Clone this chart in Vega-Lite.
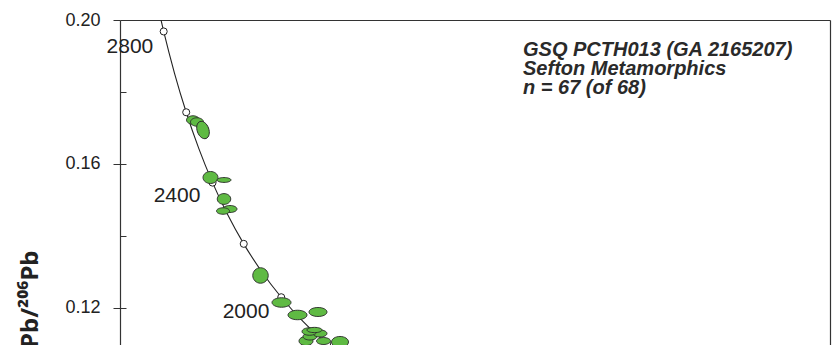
{
  "$schema": "https://vega.github.io/schema/vega-lite/v6.json",
  "width": 710,
  "height": 325,
  "autosize": {"type": "none"},
  "padding": {"left": 120, "top": 20, "right": 3, "bottom": 0},
  "background": "white",
  "config": {"view": {"stroke": null}, "font": "Liberation Sans"},
  "datasets": {
    "concordia": [
      {"age": 2900, "x": 1.76026, "y": 0.20928},
      {"age": 2850, "x": 1.79862, "y": 0.20294},
      {"age": 2800, "x": 1.83837, "y": 0.19682},
      {"age": 2700, "x": 1.92236, "y": 0.18520},
      {"age": 2600, "x": 2.01290, "y": 0.17437},
      {"age": 2500, "x": 2.11079, "y": 0.16426},
      {"age": 2400, "x": 2.21696, "y": 0.15483},
      {"age": 2300, "x": 2.33246, "y": 0.14604},
      {"age": 2200, "x": 2.45857, "y": 0.13782},
      {"age": 2100, "x": 2.59680, "y": 0.13015},
      {"age": 2000, "x": 2.74902, "y": 0.12299},
      {"age": 1900, "x": 2.91738, "y": 0.11629},
      {"age": 1800, "x": 3.10458, "y": 0.11004},
      {"age": 1700, "x": 3.31395, "y": 0.10419}
    ],
    "agemarks": [
      {"age": 2800, "x": 1.83837, "y": 0.19682},
      {"age": 2600, "x": 2.01290, "y": 0.17437},
      {"age": 2400, "x": 2.21696, "y": 0.15483},
      {"age": 2200, "x": 2.45857, "y": 0.13782},
      {"age": 2000, "x": 2.74902, "y": 0.12299},
      {"age": 1800, "x": 3.10458, "y": 0.11004}
    ],
    "agelabels": [
      {"label": "2800", "x": 1.577, "y": 0.1925},
      {"label": "2400", "x": 1.9416, "y": 0.15111},
      {"label": "2000", "x": 2.476, "y": 0.11889}
    ],
    "spots": [
      {"x": 2.0655, "y": 0.17222, "semi": 0.0504, "ratio": 0.65, "angle": 0},
      {"x": 2.0965, "y": 0.17167, "semi": 0.0504, "ratio": 0.65, "angle": 0},
      {"x": 2.143, "y": 0.16944, "semi": 0.0697, "ratio": 0.65, "angle": 70},
      {"x": 2.201, "y": 0.15625, "semi": 0.0581, "ratio": 0.8, "angle": 0},
      {"x": 2.3056, "y": 0.15556, "semi": 0.0542, "ratio": 0.35, "angle": 0},
      {"x": 2.3056, "y": 0.15028, "semi": 0.0523, "ratio": 0.8, "angle": 0},
      {"x": 2.3521, "y": 0.1475, "semi": 0.0542, "ratio": 0.5, "angle": 0},
      {"x": 2.2979, "y": 0.14694, "semi": 0.0504, "ratio": 0.5, "angle": 0},
      {"x": 2.5884, "y": 0.12903, "semi": 0.06, "ratio": 1, "angle": 0},
      {"x": 2.7511, "y": 0.12153, "semi": 0.0736, "ratio": 0.5, "angle": 0},
      {"x": 2.875, "y": 0.11806, "semi": 0.0736, "ratio": 0.5, "angle": 0},
      {"x": 3.0338, "y": 0.11889, "semi": 0.0697, "ratio": 0.5, "angle": 0},
      {"x": 3.2043, "y": 0.11056, "semi": 0.0658, "ratio": 0.65, "angle": 0},
      {"x": 2.9409, "y": 0.11083, "semi": 0.0542, "ratio": 0.65, "angle": 0},
      {"x": 3.0764, "y": 0.11083, "semi": 0.0542, "ratio": 0.5, "angle": 0},
      {"x": 2.9718, "y": 0.11208, "semi": 0.0542, "ratio": 0.5, "angle": 0},
      {"x": 3.0493, "y": 0.11292, "semi": 0.0542, "ratio": 0.5, "angle": 0},
      {"x": 2.968, "y": 0.11347, "semi": 0.0581, "ratio": 0.5, "angle": 0},
      {"x": 3.0067, "y": 0.11389, "semi": 0.0581, "ratio": 0.35, "angle": 0}
    ],
    "notes": [
      {"text": "GSQ PCTH013 (GA 2165207)", "x": 4.622, "y": 0.19},
      {"text": "Sefton Metamorphics", "x": 4.622, "y": 0.18472},
      {"text": "n = 67 (of 68)", "x": 4.622, "y": 0.17944}
    ]
  },
  "resolve": {"axis": {"x": "independent", "y": "independent"}},
  "layer": [
    {
      "data": {"name": "concordia"},
      "mark": {"type": "line", "color": "#222222", "strokeWidth": 1.1, "interpolate": "monotone", "clip": true},
      "encoding": {
        "x": {"field": "x", "type": "quantitative", "scale": {"domain": [1.5, 7.0], "nice": false, "zero": false},
          "axis": {"orient": "top", "labels": false, "ticks": false, "grid": false, "title": null, "domainColor": "#333333", "domainWidth": 1.2}},
        "y": {"field": "y", "type": "quantitative", "scale": {"domain": [0.109722, 0.2], "nice": false, "zero": false},
          "title": "²⁰⁷Pb/²⁰⁶Pb",
          "axis": {"orient": "left", "values": [0.12, 0.16, 0.2], "format": ".2f", "grid": false,
            "tickSize": 7, "tickColor": "#333333", "tickWidth": 1, "domainColor": "#333333", "domainWidth": 1.2,
            "labelFontSize": 18, "labelColor": "#222222", "labelPadding": 13, "labelFont": "Liberation Sans",
            "titleFont": "Noto Sans", "titleFontSize": 24, "titleFontWeight": "bold", "titleColor": "#222222",
            "titleAngle": -90, "titleAlign": "right", "titleBaseline": "middle", "titleX": -90, "titleY": 230}}
      }
    },
    {
      "data": {"name": "agemarks"},
      "mark": {"type": "point", "shape": "circle", "filled": true, "fill": "white", "stroke": "#222222", "strokeWidth": 1, "size": 50, "opacity": 1, "clip": true},
      "encoding": {
        "x": {"field": "x", "type": "quantitative", "axis": null},
        "y": {"field": "y", "type": "quantitative",
          "axis": {"orient": "right", "labels": false, "ticks": false, "grid": false, "title": null, "domainColor": "#333333", "domainWidth": 1.2}}
      }
    },
    {
      "data": {"name": "spots"},
      "mark": {"type": "point", "filled": true, "fill": "#5fba43", "stroke": "#2a2a2a", "strokeWidth": 0.9, "opacity": 1, "clip": true},
      "encoding": {
        "x": {"field": "x", "type": "quantitative", "axis": null},
        "y": {"field": "y", "type": "quantitative",
          "axis": {"orient": "left", "values": [0.12, 0.14, 0.16, 0.18], "labels": false, "domain": false, "grid": false, "title": null,
            "tickSize": -6, "tickColor": "#333333", "tickWidth": 1}},
        "size": {"field": "semi", "type": "quantitative", "scale": {"type": "pow", "exponent": 2, "domain": [0, 0.1], "range": [0, 666.6], "zero": true}, "legend": null},
        "shape": {"field": "ratio", "type": "nominal", "legend": null,
          "scale": {"domain": [0.35, 0.5, 0.65, 0.8, 1],
            "range": [
              "M-1,0A1,0.35,0,1,0,1,0A1,0.35,0,1,0,-1,0Z",
              "M-1,0A1,0.5,0,1,0,1,0A1,0.5,0,1,0,-1,0Z",
              "M-1,0A1,0.65,0,1,0,1,0A1,0.65,0,1,0,-1,0Z",
              "M-1,0A1,0.8,0,1,0,1,0A1,0.8,0,1,0,-1,0Z",
              "M-1,0A1,1,0,1,0,1,0A1,1,0,1,0,-1,0Z"
            ]}},
        "angle": {"field": "angle", "type": "quantitative", "scale": null}
      }
    },
    {
      "data": {"name": "agelabels"},
      "mark": {"type": "text", "fontSize": 21, "font": "Liberation Sans", "color": "#222222", "align": "center", "baseline": "middle"},
      "encoding": {
        "x": {"field": "x", "type": "quantitative", "axis": null},
        "y": {"field": "y", "type": "quantitative", "axis": null},
        "text": {"field": "label"}
      }
    },
    {
      "data": {"name": "notes"},
      "mark": {"type": "text", "fontSize": 20, "font": "Liberation Sans", "fontStyle": "italic", "fontWeight": "bold", "color": "#2a2a2a", "align": "left", "baseline": "alphabetic"},
      "encoding": {
        "x": {"field": "x", "type": "quantitative", "axis": null},
        "y": {"field": "y", "type": "quantitative", "axis": null},
        "text": {"field": "text"}
      }
    }
  ]
}
